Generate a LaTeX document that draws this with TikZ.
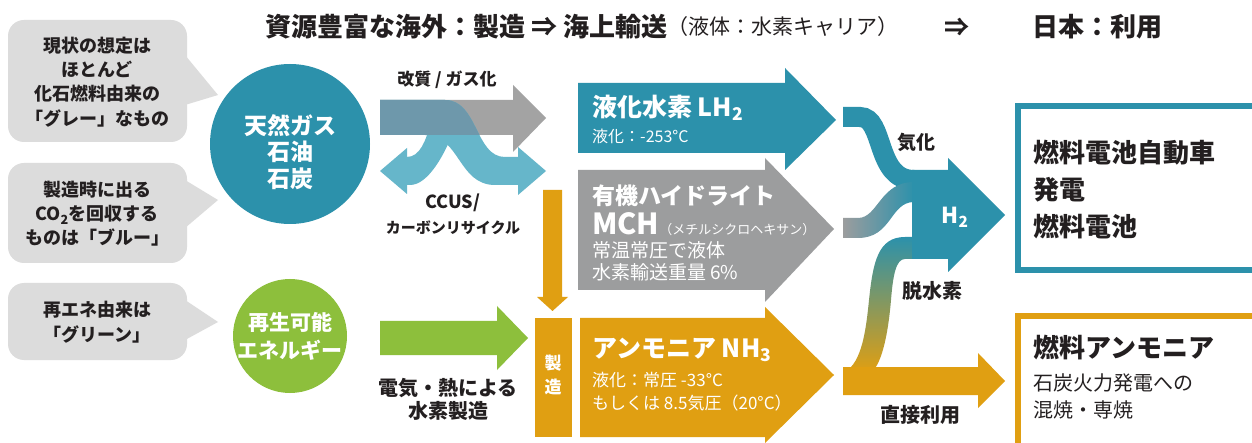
\documentclass[tikz,border=0pt]{standalone}
\usepackage{fontspec}
\setmainfont{Noto Sans CJK JP}
\definecolor{tealA}{HTML}{2C91AB}
\definecolor{lblue}{HTML}{66B6CA}
\definecolor{grayA}{HTML}{A3A3A3}
\definecolor{grayB}{HTML}{9C9D9E}
\definecolor{ovl}{HTML}{6E98AB}
\definecolor{orng}{HTML}{E09F12}
\definecolor{grn}{HTML}{8DBF3C}
\definecolor{bub}{HTML}{DCDCDC}
\definecolor{ink}{HTML}{231F20}
\newcommand\fz[2]{\fontsize{#1}{#2}\selectfont}
\newcommand\ccusR[1]{\fill[#1] (380,100) -- (445,100) .. controls (478,100) and (475,157) .. (505,157) -- (518,157) -- (518,147) -- (546,171) -- (518,195) -- (518,185) -- (495,185) .. controls (458,185) and (460,135) .. (425,135) -- (380,135) -- cycle;}
\newcommand\ccusL[1]{\fill[#1] (380,171) -- (407,148) -- (407,157) .. controls (420,157) and (426,140) .. (430,125) -- (456,125) .. controls (445,155) and (428,185) .. (410,185) -- (407,185) -- (407,194) -- cycle;}
\begin{document}
\begin{tikzpicture}[x=1pt,y=-1pt,
  every node/.style={inner sep=0pt,text=ink},
  lbl/.style={align=center},
  wt/.style={text=white, align=center},
  wl/.style={text=white, anchor=west},
  bubble/.style={fill=bub, rounded corners=16pt}]
\useasboundingbox (0,0) rectangle (1252,443);
\fill[white] (0,0) rectangle (1252,443);

% title
\node[anchor=west] (t1) at (265,27) {\fz{26}{30}\bfseries 資源豊富な海外：製造 ⇒ 海上輸送};
\node[anchor=west] (t2) at (t1.east) {\fz{21}{24}（液体：水素キャリア）};
\node (t3) at (957,27) {\fz{25}{28}\bfseries ⇒};
\node (t4) at (1097,27) {\fz{26}{30}\bfseries 日本：利用};

% bubbles
\fill[bubble] (8,20) rectangle (187,142);
\fill[bub] (185,55) -- (218,95) -- (185,105) -- cycle;
\fill[bubble] (8,163) rectangle (187,263);
\fill[bub] (185,180) -- (218,200) -- (185,228) -- cycle;
\fill[bubble] (8,283) rectangle (187,360);
\fill[bub] (185,300) -- (218,322) -- (185,340) -- cycle;
\node[lbl, font={\fz{18}{24.3}\bfseries}] (b1) at (97,82) {現状の想定は\\ほとんど\\化石燃料由来の\\「グレー」なもの};
\node[lbl, font={\fz{18}{24}\bfseries}] (b2) at (97,214) {製造時に出る\\CO\textsubscript{2}を回収する\\ものは「ブルー」};
\node[lbl, font={\fz{18}{25}\bfseries}] (b3) at (97,322) {再エネ由来は\\「グリーン」};

% sources
\fill[tealA] (290,144) circle[radius=80];
\node[wt, font={\fz{23}{26.5}\bfseries}] (fossil) at (290,152) {天然ガス\\石油\\石炭};
\fill[grn] (290,336) circle[radius=57];
\node[wt, font={\fz{21}{28}\bfseries}] (renew) at (290,336) {再生可能\\エネルギー};

% gasification arrow and CCUS
\fill[grayA] (380,100) -- (513,100) -- (513,85) -- (546,118) -- (513,152) -- (513,135) -- (380,135) -- cycle;
\ccusR{lblue}
\ccusL{lblue}
\begin{scope}
\clip (380,100) rectangle (513,135);
\ccusR{ovl}
\ccusL{ovl}
\end{scope}
\node[lbl, font={\fz{17}{20}\bfseries}] (gas) at (447,80) {改質 / ガス化};
\node[lbl, font={\fz{18}{22}\bfseries}] (ccus) at (453,203) {CCUS/};
\node[lbl, font={\fz{15}{18}\bfseries}] (cr) at (453,228) {カーボンリサイクル};

% green arrow
\fill[grn] (380,321) -- (497,321) -- (497,306) -- (528,338) -- (497,370) -- (497,355) -- (380,355) -- cycle;
\node[lbl, font={\fz{20}{23}\bfseries}] (elec) at (448,399) {電気・熱による\\水素製造};

% down arrow and production box
\fill[orng] (543,190) -- (562,190) -- (562,297) -- (568,297) -- (552.5,311) -- (537,297) -- (543,297) -- cycle;
\fill[orng] (535,318) rectangle (572,437);
\node[wt, font={\fz{17}{24}\bfseries}] (mfg) at (553,375) {製\\造};

% carriers
\fill[tealA] (578,83) -- (785,83) -- (785,68) -- (836,120) -- (785,170) -- (785,153) -- (578,153) -- cycle;
\fill[grayB] (578,170) -- (765,170) -- (765,158) -- (834,229) -- (765,302) -- (765,290) -- (578,290) -- cycle;
\fill[orng] (580,318) -- (765,318) -- (765,307) -- (834,375) -- (765,443) -- (765,437) -- (580,437) -- cycle;
\node[wl] (lh2) at (592,108) {\fz{25}{28}\bfseries 液化水素 LH\textsubscript{2}};
\node[wl] (lh2b) at (592,136) {\fz{16}{19}液化：-253°C};
\node[wl] (mch) at (592,196) {\fz{23}{26}\bfseries 有機ハイドライト};
\node[wl] (mch2) at (592,224) {\fz{29}{32}\bfseries MCH\fz{13}{16}\mdseries（メチルシクロヘキサン）};
\node[wl] (mch3) at (592,250) {\fz{19}{22}常温常圧で液体};
\node[wl] (mch4) at (592,272) {\fz{19}{22}水素輸送重量 6\%};
\node[wl] (nh3) at (592,350) {\fz{25}{28}\bfseries アンモニア NH\textsubscript{3}};
\node[wl] (nh3b) at (592,380) {\fz{17}{20}液化：常圧 -33°C};
\node[wl] (nh3c) at (592,403) {\fz{17}{20}もしくは 8.5気圧（20°C）};

% right side flows
\draw[tealA, line width=20pt] (843,117) -- (860,117) .. controls (885,117) and (875,180) .. (914,180);
\shade[left color=grayB, right color=tealA] (843,218) -- (858,218) .. controls (878,218) and (880,182) .. (914,182) -- (914,202) .. controls (890,202) and (892,238) .. (858,238) -- (843,238) -- cycle;
\shade[top color=tealA, bottom color=orng] (845,372) .. controls (862,362) and (866,330) .. (869,300) .. controls (873,262) and (878,237) .. (905,237) -- (914,237) -- (914,259) -- (905,259) .. controls (896,259) and (893,275) .. (891,300) .. controls (888,335) and (882,362) .. (872,372) -- cycle;
\fill[tealA] (912,170) -- (948,170) -- (948,158) -- (1005,215) -- (948,272) -- (948,259) -- (912,259) -- cycle;
\fill[orng] (843,367) -- (978,367) -- (978,353) -- (1005,381) -- (978,408) -- (978,395) -- (843,395) -- cycle;
\node[lbl, font={\fz{19}{22}\bfseries}] (vap) at (916,142) {気化};
\node[wt, font={\fz{22}{25}\bfseries}] (h2) at (955,217) {H\textsubscript{2}};
\node[lbl, font={\fz{20}{23}\bfseries}] (dehyd) at (932,291) {脱水素};
\node[lbl, font={\fz{20}{23}\bfseries}] (direct) at (920,415) {直接利用};

% destinations
\draw[tealA, line width=6pt] (1018,106) rectangle (1262,270);
\draw[orng, line width=6pt] (1018,316) rectangle (1262,452);
\node[anchor=west] (u1) at (1033,153) {\fz{26}{30}\bfseries 燃料電池自動車};
\node[anchor=west] (u2) at (1033,190) {\fz{26}{30}\bfseries 発電};
\node[anchor=west] (u3) at (1033,227) {\fz{26}{30}\bfseries 燃料電池};
\node[anchor=west] (u4) at (1033,348) {\fz{26}{30}\bfseries 燃料アンモニア};
\node[anchor=west] (u5) at (1033,383) {\fz{20}{24}石炭火力発電への};
\node[anchor=west] (u6) at (1033,410) {\fz{20}{24}混焼・専焼};
\end{tikzpicture}
\end{document}
